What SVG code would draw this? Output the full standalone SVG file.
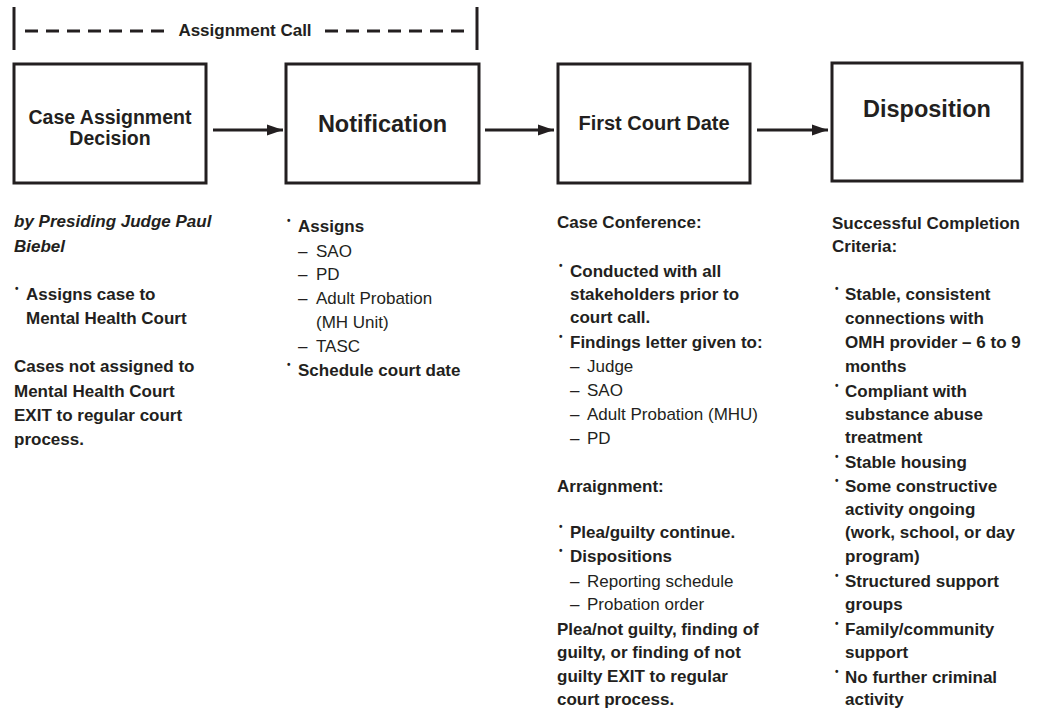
<svg xmlns="http://www.w3.org/2000/svg" width="1039" height="710" viewBox="0 0 1039 710">
<style>
text{font-family:"Liberation Sans",Arial,Helvetica,sans-serif;fill:#231f20}
.box{fill:#fff;stroke:#231f20;stroke-width:3}
.t{font-weight:bold;text-anchor:middle}
.b{font-size:17px;font-weight:bold}
.r{font-size:17px}
.bi{font-size:17px;font-weight:bold;font-style:italic}
.bl{font-size:10px;font-weight:bold}
.conn{stroke:#231f20;stroke-width:3;fill:none}
.bar{stroke:#231f20;stroke-width:3}
.dash{stroke:#231f20;stroke-width:3;stroke-dasharray:13 8}
</style>
<defs>
<marker id="ah" markerUnits="userSpaceOnUse" markerWidth="17" markerHeight="12" refX="16" refY="6" orient="auto">
<path d="M0,0.5 L16,6 L0,11.5 z" fill="#231f20"/>
</marker>
</defs>
<rect width="1039" height="710" fill="#fff"/>

<g id="assignment-call">
<line class="bar" x1="14" y1="7" x2="14" y2="50"/>
<line class="bar" x1="477" y1="7" x2="477" y2="50"/>
<line class="dash" x1="25" y1="31" x2="166" y2="31"/>
<line class="dash" x1="325" y1="31" x2="466" y2="31"/>
<text class="b" x="245" y="36" text-anchor="middle">Assignment Call</text>
</g>

<g id="connectors">
<line class="conn" x1="213" y1="130" x2="283" y2="130" marker-end="url(#ah)"/>
<line class="conn" x1="485" y1="130" x2="554" y2="130" marker-end="url(#ah)"/>
<line class="conn" x1="757" y1="130" x2="828" y2="130" marker-end="url(#ah)"/>
</g>

<g id="node-case-assignment">
<rect class="box" x="14" y="64" width="192" height="119"/>
<text class="t" x="110" y="124" font-size="19.5">Case Assignment</text>
<text class="t" x="110" y="145" font-size="19.5">Decision</text>
</g>

<g id="node-notification">
<rect class="box" x="286" y="64" width="193" height="119"/>
<text class="t" x="382.5" y="132" font-size="23.5">Notification</text>
</g>

<g id="node-first-court-date">
<rect class="box" x="558" y="64" width="192" height="119"/>
<text class="t" x="654" y="130" font-size="20">First Court Date</text>
</g>

<g id="node-disposition">
<rect class="box" x="832" y="63" width="190" height="118"/>
<text class="t" x="927" y="117" font-size="23.5">Disposition</text>
</g>

<g id="notes-case-assignment">
<text class="bi" x="14" y="227">by Presiding Judge Paul</text>
<text class="bi" x="14" y="252">Biebel</text>
<text class="bl" x="15" y="292">•</text>
<text class="b" x="26" y="300">Assigns case to</text>
<text class="b" x="26" y="324">Mental Health Court</text>
<text class="b" x="14" y="372">Cases not assigned to</text>
<text class="b" x="14" y="397">Mental Health Court</text>
<text class="b" x="14" y="421">EXIT to regular court</text>
<text class="b" x="14" y="445">process.</text>
</g>

<g id="notes-notification">
<text class="bl" x="287" y="224">•</text>
<text class="b" x="298" y="232">Assigns</text>
<text class="r" x="298" y="257">–</text><text class="r" x="316" y="257">SAO</text>
<text class="r" x="298" y="280">–</text><text class="r" x="316" y="280">PD</text>
<text class="r" x="298" y="304">–</text><text class="r" x="316" y="304">Adult Probation</text>
<text class="r" x="316" y="328">(MH Unit)</text>
<text class="r" x="298" y="352">–</text><text class="r" x="316" y="352">TASC</text>
<text class="bl" x="287" y="368">•</text>
<text class="b" x="298" y="376">Schedule court date</text>
</g>

<g id="notes-first-court-date">
<text class="b" x="557" y="228">Case Conference:</text>
<text class="bl" x="559" y="269">•</text>
<text class="b" x="570" y="277">Conducted with all</text>
<text class="b" x="570" y="300">stakeholders prior to</text>
<text class="b" x="570" y="323">court call.</text>
<text class="bl" x="559" y="340">•</text>
<text class="b" x="570" y="348">Findings letter given to:</text>
<text class="r" x="570" y="372">–</text><text class="r" x="587" y="372">Judge</text>
<text class="r" x="570" y="396">–</text><text class="r" x="587" y="396">SAO</text>
<text class="r" x="570" y="420">–</text><text class="r" x="587" y="420">Adult Probation (MHU)</text>
<text class="r" x="570" y="444">–</text><text class="r" x="587" y="444">PD</text>
<text class="b" x="557" y="492">Arraignment:</text>
<text class="bl" x="559" y="530">•</text>
<text class="b" x="570" y="538">Plea/guilty continue.</text>
<text class="bl" x="559" y="554">•</text>
<text class="b" x="570" y="562">Dispositions</text>
<text class="r" x="570" y="587">–</text><text class="r" x="587" y="587">Reporting schedule</text>
<text class="r" x="570" y="610">–</text><text class="r" x="587" y="610">Probation order</text>
<text class="b" x="557" y="635">Plea/not guilty, finding of</text>
<text class="b" x="557" y="658">guilty, or finding of not</text>
<text class="b" x="557" y="682">guilty EXIT to regular</text>
<text class="b" x="557" y="705">court process.</text>
</g>

<g id="notes-disposition">
<text class="b" x="832" y="229">Successful Completion</text>
<text class="b" x="832" y="252">Criteria:</text>
<text class="bl" x="835" y="292">•</text>
<text class="b" x="845" y="300">Stable, consistent</text>
<text class="b" x="845" y="324">connections with</text>
<text class="b" x="845" y="348">OMH provider – 6 to 9</text>
<text class="b" x="845" y="372">months</text>
<text class="bl" x="835" y="389">•</text>
<text class="b" x="845" y="397">Compliant with</text>
<text class="b" x="845" y="420">substance abuse</text>
<text class="b" x="845" y="443">treatment</text>
<text class="bl" x="835" y="460">•</text>
<text class="b" x="845" y="468">Stable housing</text>
<text class="bl" x="835" y="484">•</text>
<text class="b" x="845" y="492">Some constructive</text>
<text class="b" x="845" y="515">activity ongoing</text>
<text class="b" x="845" y="538">(work, school, or day</text>
<text class="b" x="845" y="562">program)</text>
<text class="bl" x="835" y="579">•</text>
<text class="b" x="845" y="587">Structured support</text>
<text class="b" x="845" y="610">groups</text>
<text class="bl" x="835" y="627">•</text>
<text class="b" x="845" y="635">Family/community</text>
<text class="b" x="845" y="658">support</text>
<text class="bl" x="835" y="675">•</text>
<text class="b" x="845" y="683">No further criminal</text>
<text class="b" x="845" y="705">activity</text>
</g>
</svg>
